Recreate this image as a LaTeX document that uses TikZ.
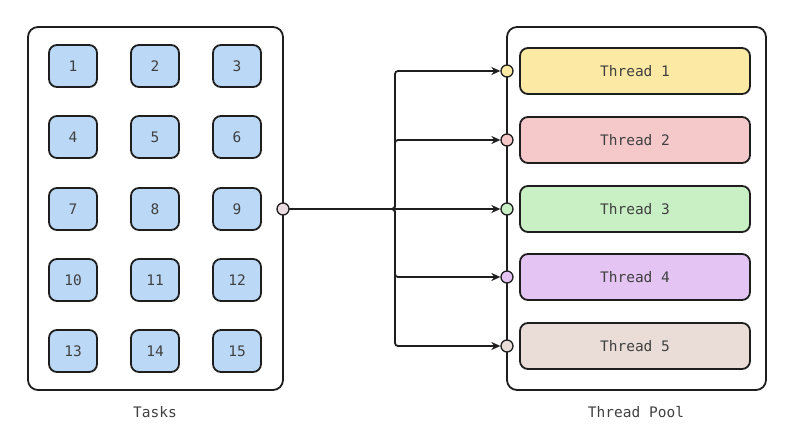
\documentclass[tikz,border=0pt]{standalone}
\usepackage{fontspec}
\setmonofont{DejaVu Sans Mono}
\usetikzlibrary{arrows.meta,positioning}

\definecolor{taskblue}{HTML}{BBD8F7}
\definecolor{thyellow}{HTML}{FCE9A3}
\definecolor{thpink}{HTML}{F5C9CA}
\definecolor{thgreen}{HTML}{C9F0C5}
\definecolor{thpurple}{HTML}{E4C4F3}
\definecolor{thbrown}{HTML}{EADDD8}
\definecolor{portgrey}{HTML}{EADCE0}
\definecolor{inkdark}{HTML}{1E1E1E}

\begin{document}
\begin{tikzpicture}[x=1pt,y=-1pt,line width=1.8pt,draw=inkdark,
  font=\ttfamily\fontsize{14.5}{17}\selectfont,text=inkdark!85]
  \useasboundingbox (0,0) rectangle (800,446);
  \tikzset{Frame/.style={draw=inkdark,rounded corners=10pt,fill=white},
           TaskBox/.style={draw=inkdark,rounded corners=8pt,fill=taskblue,
             minimum width=48pt,minimum height=42pt,inner sep=0pt},
           ThreadBox/.style={draw=inkdark,rounded corners=8pt,
             minimum width=230pt,minimum height=46pt,inner sep=0pt},
           Port/.style={draw=inkdark,circle,line width=1.3pt,
             minimum size=12pt,inner sep=0pt},
           Link/.style={draw=inkdark,line width=1.8pt,rounded corners=3pt,
             -{Stealth[length=9pt,width=8pt]}}}

  % frames
  \draw[Frame] (28,27) rectangle (283,390);
  \draw[Frame] (507,27) rectangle (766,390);
  \node (tasks) at (155,412) {Tasks};
  \node (pool) at (636,412) {Thread Pool};

  % tasks
  \node[TaskBox] (t1) at (73,66) {1};
  \node[TaskBox] (t2) at (155,66) {2};
  \node[TaskBox] (t3) at (237,66) {3};
  \node[TaskBox] (t4) at (73,137) {4};
  \node[TaskBox] (t5) at (155,137) {5};
  \node[TaskBox] (t6) at (237,137) {6};
  \node[TaskBox] (t7) at (73,209) {7};
  \node[TaskBox] (t8) at (155,209) {8};
  \node[TaskBox] (t9) at (237,209) {9};
  \node[TaskBox] (t10) at (73,280) {10};
  \node[TaskBox] (t11) at (155,280) {11};
  \node[TaskBox] (t12) at (237,280) {12};
  \node[TaskBox] (t13) at (73,351) {13};
  \node[TaskBox] (t14) at (155,351) {14};
  \node[TaskBox] (t15) at (237,351) {15};

  % threads
  \node[ThreadBox,fill=thyellow] (th1) at (635,71) {Thread 1};
  \node[ThreadBox,fill=thpink] (th2) at (635,140) {Thread 2};
  \node[ThreadBox,fill=thgreen] (th3) at (635,209) {Thread 3};
  \node[ThreadBox,fill=thpurple] (th4) at (635,277) {Thread 4};
  \node[ThreadBox,fill=thbrown] (th5) at (635,346) {Thread 5};

  % ports
  \node[Port,fill=portgrey] (pq) at (283,209) {};
  \node[Port,fill=thyellow] (p1) at (507,71) {};
  \node[Port,fill=thpink] (p2) at (507,140) {};
  \node[Port,fill=thgreen] (p3) at (507,209) {};
  \node[Port,fill=thpurple] (p4) at (507,277) {};
  \node[Port,fill=thbrown] (p5) at (507,346) {};
  \coordinate (bus) at (395,209);

  \draw[Link] (pq) -- (bus) |- (p1);
  \draw[Link] (pq) -- (bus) |- (p2);
  \draw[Link] (pq) -- (p3);
  \draw[Link] (pq) -- (bus) |- (p4);
  \draw[Link] (pq) -- (bus) |- (p5);
\end{tikzpicture}
\end{document}
